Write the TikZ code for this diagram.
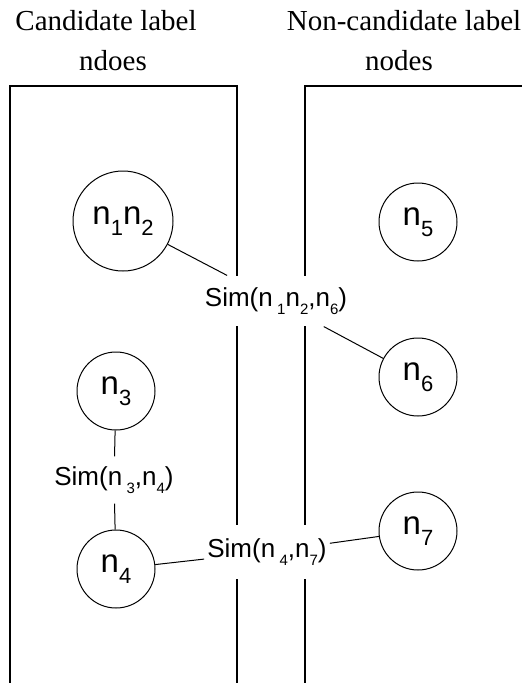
\documentclass[tikz,border=0pt]{standalone}
\usepackage{fontspec}
\setmainfont{Liberation Serif}
\newfontfamily\labfont{Liberation Sans}
\newcommand{\nsub}[1]{n\raisebox{-0.35em}{\fontsize{22}{22}\selectfont #1}}
\newcommand{\ssub}[1]{\raisebox{-0.3em}{\fontsize{15}{15}\selectfont #1}}
\begin{document}
\begin{tikzpicture}[x=1pt,y=-1pt,
  title/.style={font=\fontsize{29}{29}\selectfont, anchor=base, inner sep=0pt},
  elem/.style={circle, draw, line width=1pt, inner sep=0pt, font=\labfont\fontsize{33}{33}\selectfont},
  simlab/.style={fill=white, inner xsep=3pt, inner ysep=12pt, font=\labfont\fontsize{26}{26}\selectfont},
  boxline/.style={line width=1.2pt},
  conn/.style={line width=1pt}]
\useasboundingbox (0,0) rectangle (522,683);
% boxes
\draw[boxline] (10,683) -- (10,86) -- (237,86) -- (237,683);
\draw[boxline] (305,683) -- (305,86) -- (530,86);
% titles
\node[title] (t1) at (106,30) {Candidate label};
\node[title] (t2) at (113,70) {ndoes};
\node[title] (t3) at (404,30) {Non-candidate label};
\node[title] (t4) at (399,70) {nodes};
% element nodes
\node[elem, minimum size=100pt] (n12) at (123,221) {\nsub{1}\nsub{2}};
\node[elem, minimum size=78pt] (n5) at (418,222) {\nsub{5}};
\node[elem, minimum size=78pt] (n6) at (418,377) {\nsub{6}};
\node[elem, minimum size=78pt] (n3) at (116,391) {\nsub{3}};
\node[elem, minimum size=78pt] (n4) at (116,569) {\nsub{4}};
\node[elem, minimum size=78pt] (n7) at (418,531) {\nsub{7}};
% similarity labels
\node[simlab] (s126) at (276,301) {Sim(n\,\ssub{1}n\ssub{2},n\ssub{6})};
\node[simlab, inner ysep=10pt] (s34) at (114,480) {Sim(n\,\ssub{3},n\ssub{4})};
\node[simlab, inner ysep=14pt] (s47) at (267,552) {Sim(n\,\ssub{4},n\ssub{7})};
% connectors
\draw[conn] (n12) -- (s126);
\draw[conn] (s126) -- (n6);
\draw[conn] (n3) -- (s34);
\draw[conn] (s34) -- (n4);
\draw[conn] (n4) -- (s47);
\draw[conn] (s47) -- (n7);
\end{tikzpicture}
\end{document}
